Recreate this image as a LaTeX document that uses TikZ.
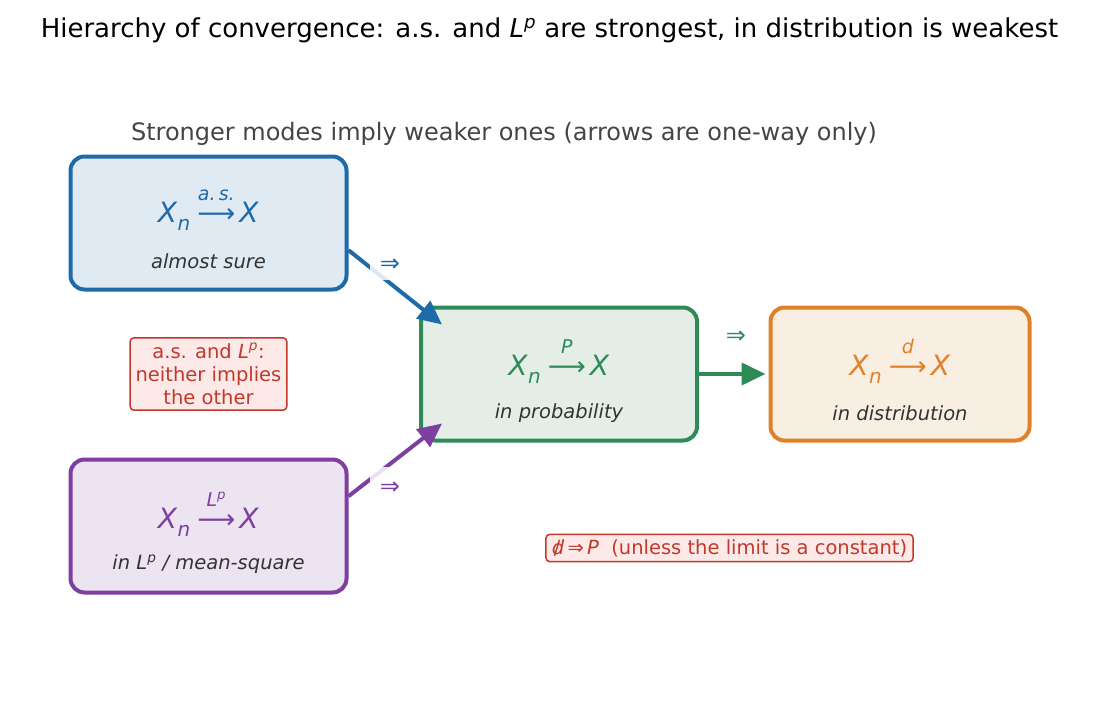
\documentclass[tikz,border=0pt]{standalone}
\usepackage{fontspec}
\setmainfont{DejaVu Sans}
\usetikzlibrary{arrows.meta,calc}
\definecolor{cblue}{HTML}{1F6AA8}
\definecolor{cgreen}{HTML}{2E8B57}
\definecolor{corange}{HTML}{E0812A}
\definecolor{cpurple}{HTML}{7D3FA0}
\definecolor{cred}{HTML}{C0392B}
\definecolor{fblue}{HTML}{E0EAF3}
\definecolor{fgreen}{HTML}{E4EEE7}
\definecolor{forange}{HTML}{F8EEE2}
\definecolor{fpurple}{HTML}{ECE4F1}
\definecolor{fred}{HTML}{FDE9E8}
\definecolor{cgray}{HTML}{444444}
\definecolor{cdark}{HTML}{333333}
\newsavebox\arrbox
\newcommand{\conv}[1]{\fontsize{28}{30}\selectfont\sbox\arrbox{\resizebox{38pt}{!}{⟶}}\textit{X}\raisebox{-0.3em}{\fontsize{20}{20}\selectfont\textit{n}}\hspace{7pt}\makebox[0pt][l]{\raisebox{0.78em}{\makebox[\wd\arrbox][c]{\fontsize{19}{19}\selectfont\itshape #1}}}\usebox\arrbox\hspace{4pt}\textit{X}}
\tikzset{
  modebox/.style={draw, line width=4pt, rounded corners=14pt, minimum width=276pt, minimum height=133pt},
  formula/.style={inner sep=0pt, anchor=base},
  caption/.style={text=cdark, font=\fontsize{19.5}{22}\selectfont\itshape, inner sep=0pt},
  notebox/.style={draw=cred, fill=fred, text=cred, line width=1.5pt, rounded corners=4pt, font=\fontsize{19.5}{23}\selectfont, align=center, inner sep=5.5pt},
  implies/.style={-{Triangle[length=24pt,width=22pt]}, line width=4pt},
  labbg/.style={fill=white, fill opacity=0.85, inner sep=0pt, minimum width=40pt, minimum height=36pt},
  implab/.style={font=\fontsize{24}{24}\selectfont, inner sep=0pt}
}
\begin{document}
\begin{tikzpicture}[x=1pt,y=-1pt]
\useasboundingbox (0,0) rectangle (1099,701);
\node (title) at (549.5,30) {\fontsize{26}{28}\selectfont Hierarchy of convergence: a.s. and \textit{L}\textsuperscript{\textit{p}} are strongest, in distribution is weakest};
\node[text=cgray] (sub) at (504,134) {\fontsize{24}{26}\selectfont Stronger modes imply weaker ones (arrows are one-way only)};

\node[modebox, draw=cblue, fill=fblue] (as) at (208.5,223) {};
\node[modebox, draw=cgreen, fill=fgreen] (p) at (559,374) {};
\node[modebox, draw=corange, fill=forange, minimum width=259pt] (d) at (900,374) {};
\node[modebox, draw=cpurple, fill=fpurple] (lp) at (208.5,526) {};

\node[formula, text=cblue] (asf) at (208.5,222) {\conv{a.\,s.}};
\node[caption] (asc) at (208.5,261) {almost sure};
\node[formula, text=cgreen] (pf) at (559,375) {\conv{P}};
\node[caption] (pc) at (559,413) {in probability};
\node[formula, text=corange] (df) at (900,375) {\conv{d}};
\node[caption] (dc) at (900,413) {in distribution};
\node[formula, text=cpurple] (lpf) at (208.5,528) {\conv{L\textsuperscript{p}}};
\node[caption] (lpc) at (208.5,564) {in \textit{L}\textsuperscript{p} / mean-square};

\node[notebox] (n1) at (208.5,374) {a.s. and \textit{L}\textsuperscript{\textit{p}}:\\neither implies\\the other};
\node[notebox, inner xsep=6pt, inner ysep=5pt] (n2) at (729.5,548) {\makebox[0pt][l]{\kern0.1em/}\textit{d}\,⇒\,\textit{P}\ \ (unless the limit is a constant)};

\coordinate (pin1) at ($(p.north west)+(23,19)$);
\coordinate (pin2) at ($(p.south west)+(23,-19)$);
\coordinate (din) at ($(d.west)+(-3,0)$);
\draw[implies, draw=cblue, fill=cblue] (as.-11.3) -- (pin1);
\draw[implies, draw=cpurple, fill=cpurple] (lp.12.1) -- (pin2);
\draw[implies, draw=cgreen, fill=cgreen] (p.east) -- (din);
\node[labbg] (l1bg) at (390,262) {};
\node[labbg] (l2bg) at (390,485) {};
\node[implab, text=cblue] (l1) at (390,265) {⇒};
\node[implab, text=cpurple] (l2) at (390,488) {⇒};
\node[implab, text=cgreen] (l3) at (736,337) {⇒};
\end{tikzpicture}
\end{document}
